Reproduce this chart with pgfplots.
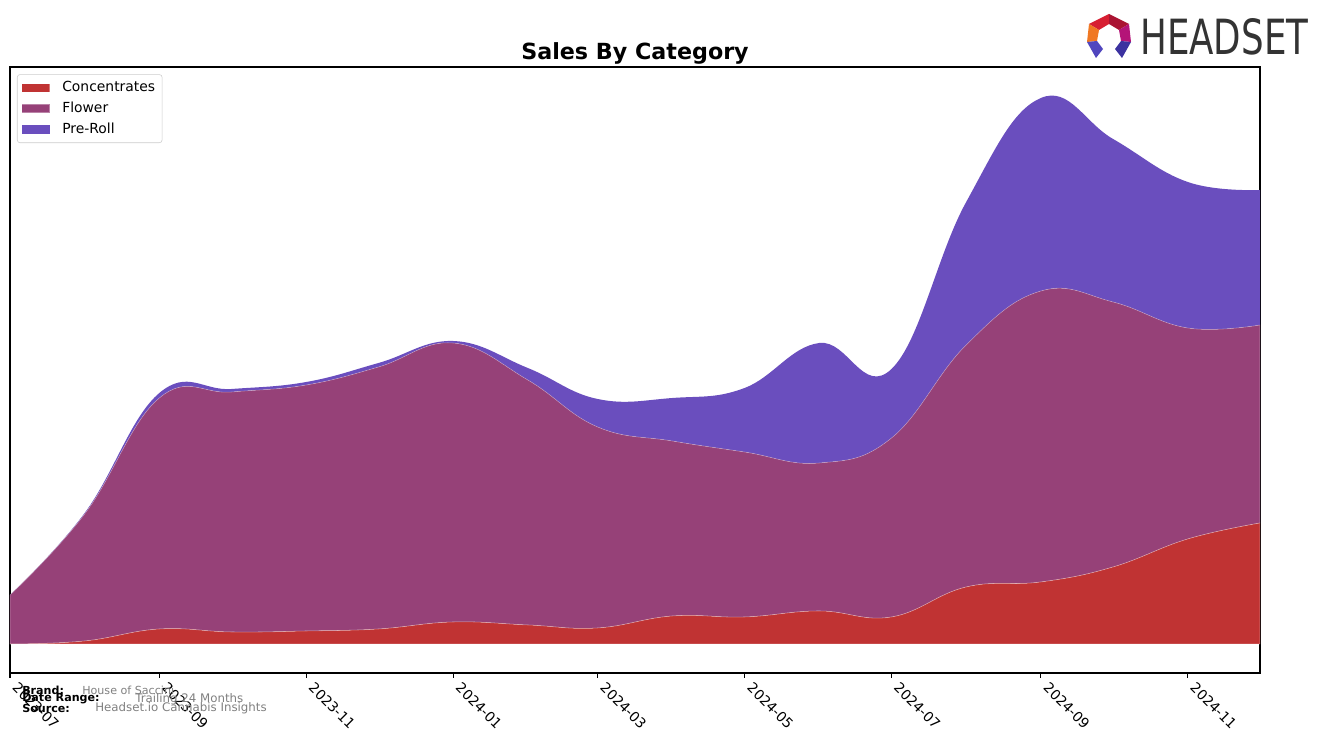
\documentclass[border=0pt]{standalone}
\usepackage{pgfplots}
\usepackage{pgfplotstable}
\pgfplotsset{compat=1.18}
\usepackage{fontspec}
\setmainfont{DejaVu Sans}
\definecolor{conc}{RGB}{192,51,51}
\definecolor{flower}{RGB}{150,65,120}
\definecolor{preroll}{RGB}{106,78,190}
\definecolor{logogray}{RGB}{51,51,51}
\definecolor{lr1}{RGB}{215,30,50}
\definecolor{lr2}{RGB}{170,20,50}
\definecolor{lo}{RGB}{240,120,35}
\definecolor{lm}{RGB}{180,20,120}
\definecolor{lb1}{RGB}{80,70,190}
\definecolor{lb2}{RGB}{60,50,160}
\pgfplotstableread{
d c f p
0 0 49 0
31 3 127 1
62 15 231 5
92 12 240 3
123 13 246 3
153 15 262 4
184 22 279 2
215 19 245 12
244 16 201 28
275 28 175 43
305 27 165 64
336 33 148 120
366 27 179 69
397 57 242 143
428 62 291 193
458 77 265 163
489 105 211 146
519 121 198 135
}\data
\begin{document}
\begin{tikzpicture}[x=0.72pt,y=0.72pt]
\useasboundingbox (0,0) rectangle (1324,743);
\begin{axis}[
  at={(7.2pt,50.4pt)}, anchor=south west,
  scale only axis, width=900pt, height=436.32pt,
  xmin=0, xmax=519, ymin=-29, ymax=577,
  stack plots=y,
  ytick=\empty,
  xtick={0,62,123,184,244,305,366,428,489},
  xticklabels={2023-07,2023-09,2023-11,2024-01,2024-03,2024-05,2024-07,2024-09,2024-11},
  xtick pos=left, tick align=outside,
  major tick length=3.5pt,
  every tick/.style={black, line width=0.8pt},
  axis line style={black, line width=0.8pt},
  xticklabel style={font=\fontsize{10}{12}\selectfont, inner sep=1pt, xshift=6.5pt, yshift=-1pt, rotate=-45, anchor=north west},
  legend style={at={(0.0056,0.988)}, anchor=north west, draw=black!20, rounded corners=2pt,
    font=\fontsize{10}{12}\selectfont, row sep=2pt, inner xsep=3pt, inner ysep=3pt, cells={anchor=west}},
  legend image code/.code={\fill[#1, sharp corners] (0pt,-3pt) rectangle (20pt,3pt); \path (27pt,0pt);},
]
\addplot[fill=conc, draw=white, draw opacity=0.35, line width=0.4pt, smooth, tension=0.7] table[x=d,y=c]{\data} \closedcycle;
\addlegendentry{Concentrates}
\addplot[fill=flower, draw=white, draw opacity=0.35, line width=0.4pt, smooth, tension=0.7] table[x=d,y=f]{\data} \closedcycle;
\addlegendentry{Flower}
\addplot[fill=preroll, draw=none, smooth, tension=0.7] table[x=d,y=p]{\data} \closedcycle;
\addlegendentry{Pre-Roll}
\end{axis}
% title
\node[font=\fontsize{16}{19}\selectfont\bfseries] at (635,743-53) {Sales By Category};
% footer
\node[anchor=west, font=\fontsize{8}{9}\selectfont\bfseries, inner sep=0pt] at (22,743-690) {Brand:};
\node[anchor=west, font=\fontsize{8}{9}\selectfont, text=gray, inner sep=0pt] at (82,743-690) {House of Saccini};
\node[anchor=west, font=\fontsize{8}{9}\selectfont\bfseries, inner sep=0pt] at (22,743-699) {Date Range:};
\node[anchor=west, font=\fontsize{8.5}{9}\selectfont, text=gray, inner sep=0pt] at (135,743-699) {Trailing 24 Months};
\node[anchor=west, font=\fontsize{8}{9}\selectfont\bfseries, inner sep=0pt] at (22,743-708) {Source:};
\node[anchor=west, font=\fontsize{8.5}{9}\selectfont, text=gray, inner sep=0pt] at (95,743-708) {Headset.io Cannabis Insights};
% logo
\fill[lr1] (1089,743-24) -- (1109,743-14) -- (1109,743-24) -- (1099,743-30) -- cycle;
\fill[lr2] (1109,743-14) -- (1129,743-24) -- (1119,743-30) -- (1109,743-24) -- cycle;
\fill[lo] (1089,743-24) -- (1099,743-30) -- (1097,743-41) -- (1087,743-42) -- cycle;
\fill[lm] (1129,743-24) -- (1131,743-42) -- (1121,743-41) -- (1119,743-30) -- cycle;
\fill[lb1] (1087,743-42) -- (1097,743-41) -- (1103,743-49) -- (1096,743-58) -- cycle;
\fill[lb2] (1131,743-42) -- (1121,743-41) -- (1115,743-49) -- (1122,743-58) -- cycle;
\node[anchor=south west, inner sep=0pt, text=logogray] at (1140,743-55) {\resizebox{120.96pt}{25.92pt}{HEADSET}};
\end{tikzpicture}
\end{document}
